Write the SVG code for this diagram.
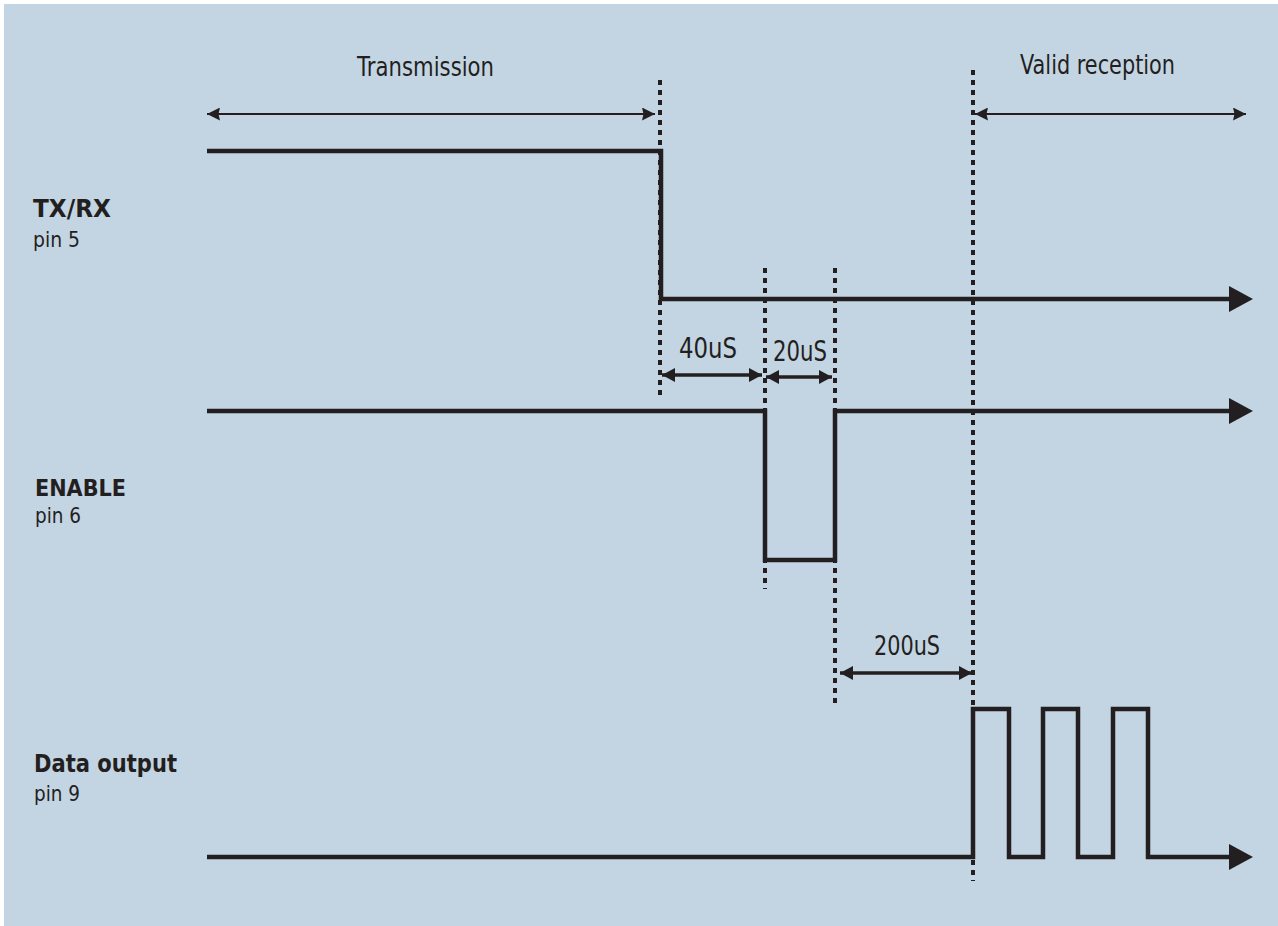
<svg xmlns="http://www.w3.org/2000/svg" width="1278" height="926" viewBox="0 0 1278 926">
  <style>
    .lbl { font-family: "DejaVu Sans", "Liberation Sans", sans-serif; fill: #231F20; }
    .b { font-weight: bold; }
    .sig { fill: none; stroke: #231F20; stroke-width: 4.5; stroke-linejoin: miter; }
    .dot { fill: none; stroke: #231F20; stroke-width: 4; stroke-dasharray: 5 5; }
    .thin { fill: none; stroke: #231F20; stroke-width: 2.2; }
    .dim { fill: none; stroke: #231F20; stroke-width: 3.5; }
    .head { fill: #231F20; }
  </style>
  <defs>
    <marker id="ahs" viewBox="0 0 13 13" refX="13" refY="6.5" markerWidth="13" markerHeight="13" markerUnits="userSpaceOnUse" orient="auto-start-reverse">
      <path d="M0,0 L13,6.5 L0,13 L1.5,6.5 Z" fill="#231F20"/>
    </marker>
    <marker id="ahd" viewBox="0 0 13 14" refX="13" refY="7" markerWidth="13" markerHeight="14" markerUnits="userSpaceOnUse" orient="auto-start-reverse">
      <path d="M0,0 L13,7 L0,14 Z" fill="#231F20"/>
    </marker>
  </defs>
  <rect x="0" y="0" width="1278" height="926" fill="#FFFFFF"/>
  <rect x="4" y="4" width="1274" height="922" fill="#C3D5E3"/>

  <g id="guides">
    <line class="dot" x1="660" y1="80" x2="660" y2="396"/>
    <line class="dot" x1="765" y1="268" x2="765" y2="589"/>
    <line class="dot" x1="835" y1="268" x2="835" y2="708"/>
    <line class="dot" x1="973" y1="70" x2="973" y2="881"/>
  </g>

  <g id="connectors">
    <line class="thin" x1="207" y1="114" x2="655" y2="114" marker-start="url(#ahs)" marker-end="url(#ahs)"/>
    <line class="thin" x1="975" y1="114" x2="1246" y2="114" marker-start="url(#ahs)" marker-end="url(#ahs)"/>
    <line class="dim" x1="662" y1="375" x2="762" y2="375" marker-start="url(#ahd)" marker-end="url(#ahd)"/>
    <line class="dim" x1="766" y1="377" x2="832" y2="377" marker-start="url(#ahd)" marker-end="url(#ahd)"/>
    <line class="dim" x1="840" y1="673" x2="972" y2="673" marker-start="url(#ahd)" marker-end="url(#ahd)"/>
  </g>

  <g id="txrx">
    <path class="sig" d="M207,151 H661 V299 H1232"/>
    <polygon class="head" points="1229,286 1253,299 1229,312"/>
    <text class="lbl b" x="33" y="217" font-size="25" textLength="78" lengthAdjust="spacingAndGlyphs">TX/RX</text>
    <text class="lbl" x="33" y="247" font-size="22" textLength="47" lengthAdjust="spacingAndGlyphs">pin 5</text>
  </g>

  <g id="enable">
    <path class="sig" d="M207,411 H765 V560 H835 V411 H1232"/>
    <polygon class="head" points="1229,398 1253,411 1229,424"/>
    <text class="lbl b" x="35" y="496" font-size="23" textLength="91" lengthAdjust="spacingAndGlyphs">ENABLE</text>
    <text class="lbl" x="35" y="523" font-size="22" textLength="46" lengthAdjust="spacingAndGlyphs">pin 6</text>
  </g>

  <g id="dataout">
    <path class="sig" d="M207,857 H973 V709 H1009 V857 H1043 V709 H1078 V857 H1113 V709 H1148 V857 H1232"/>
    <polygon class="head" points="1229,844 1253,857 1229,870"/>
    <text class="lbl b" x="34" y="772" font-size="25" textLength="143" lengthAdjust="spacingAndGlyphs">Data output</text>
    <text class="lbl" x="34" y="801" font-size="22" textLength="46" lengthAdjust="spacingAndGlyphs">pin 9</text>
  </g>

  <g id="labels">
    <text class="lbl" x="357" y="76" font-size="27" textLength="137" lengthAdjust="spacingAndGlyphs">Transmission</text>
    <text class="lbl" x="1020" y="74" font-size="26" textLength="155" lengthAdjust="spacingAndGlyphs">Valid reception</text>
    <text class="lbl" x="679" y="358" font-size="28" textLength="58" lengthAdjust="spacingAndGlyphs">40uS</text>
    <text class="lbl" x="773" y="361" font-size="28" textLength="54" lengthAdjust="spacingAndGlyphs">20uS</text>
    <text class="lbl" x="874" y="655" font-size="27" textLength="66" lengthAdjust="spacingAndGlyphs">200uS</text>
  </g>
</svg>
